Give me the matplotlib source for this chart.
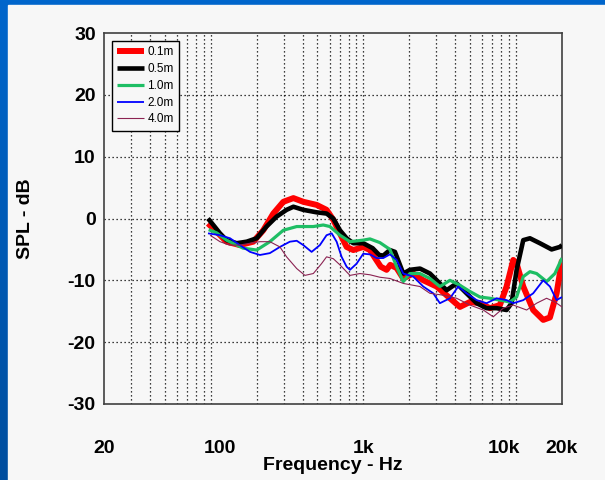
import numpy as np
import matplotlib
matplotlib.use("Agg")
import matplotlib.pyplot as plt
import matplotlib.transforms as mtransforms
from matplotlib.patches import Rectangle

# ---- measured responses (frequency in Hz, level in dB) ----
freq_01 = [96, 109, 127, 155, 190, 221, 257, 299, 348, 404, 494, 574, 635, 702, 777,
           859, 998, 1104, 1200, 1300, 1420, 1500, 1650, 1825, 2120, 2470, 3020, 3690,
           4290, 4990, 5800, 6740, 7840, 8670, 9590, 10090, 11150, 12950, 15070, 16670,
           18440, 20000]
spl_01 = [-0.8, -2.1, -3.75, -4.3, -3.75, -1.9, 0.8, 2.7, 3.3, 2.7, 2.2, 1.4, -0.2, -2.4,
          -4.6, -5.1, -4.6, -5.1, -6.5, -7.8, -8.3, -7.5, -8.0, -9.7, -8.9, -10.0, -11.0,
          -12.9, -14.3, -13.5, -13.7, -14.5, -14.0, -11.0, -6.7, -7.3, -11.0, -14.8, -16.4,
          -16.0, -12.1, -6.7]

freq_05 = [96, 104, 115, 127, 148, 172, 200, 232, 270, 314, 348, 404, 494, 574, 635, 702,
           777, 859, 998, 1150, 1270, 1350, 1490, 1610, 1825, 2020, 2350, 2730, 3170, 3510,
           4080, 4740, 5520, 6410, 7460, 8670, 9350, 10090, 11150, 12330, 14330, 17100,
           19380, 20000]
spl_05 = [0.0, -1.05, -2.4, -3.5, -4.0, -3.75, -3.2, -1.3, 0.3, 1.4, 1.9, 1.4, 1.0, 0.8,
          0.0, -1.9, -3.2, -4.0, -4.0, -4.8, -5.9, -6.0, -5.1, -5.4, -8.9, -8.3, -8.1, -8.9,
          -10.5, -11.6, -10.5, -12.1, -13.7, -14.5, -14.5, -14.8, -13.7, -8.3, -3.5, -3.2,
          -4.0, -5.0, -4.6, -4.3]

freq_10 = [97, 109, 127, 163, 200, 244, 299, 366, 470, 546, 604, 702, 817, 998, 1104,
           1283, 1493, 1652, 1825, 2019, 2346, 2728, 3170, 3690, 4287, 4987, 5800, 6740,
           7840, 9120, 10090, 11150, 12330, 13640, 15850, 17970, 20000]
spl_10 = [-1.8, -2.3, -3.5, -4.8, -5.1, -3.75, -1.9, -1.3, -1.3, -1.05, -1.3, -2.7, -3.75,
          -3.5, -3.3, -3.9, -5.0, -7.8, -10.2, -8.9, -8.9, -9.7, -11.0, -10.0, -10.8,
          -11.8, -12.7, -12.9, -13.2, -13.5, -12.7, -9.4, -8.6, -8.9, -10.2, -8.9, -6.4]

freq_20 = [96, 115, 134, 155, 181, 210, 244, 284, 330, 366, 404, 458, 519, 574, 620, 668,
           720, 777, 817, 903, 998, 1104, 1221, 1350, 1493, 1652, 1825, 2123, 2467, 2870,
           3170, 3690, 4180, 4743, 5520, 6410, 7460, 8670, 9590, 11150, 12950, 15070,
           16670, 18440, 20000]
spl_20 = [-2.4, -2.7, -3.2, -4.3, -5.4, -5.9, -5.6, -4.6, -3.75, -3.6, -4.3, -5.4, -4.3,
          -2.7, -2.4, -3.75, -6.2, -7.8, -8.3, -7.3, -5.7, -5.8, -6.4, -6.4, -5.8, -6.7,
          -8.9, -9.4, -11.0, -12.1, -13.7, -12.9, -11.0, -12.1, -13.2, -13.7, -12.9,
          -13.2, -13.7, -13.2, -12.1, -10.0, -11.0, -13.2, -12.7]

freq_40 = [99, 115, 133, 155, 181, 210, 244, 284, 314, 366, 414, 470, 532, 574, 635, 702,
           817, 950, 1104, 1283, 1493, 1825, 2346, 2728, 3334, 4083, 4987, 6100, 7090,
           8240, 9590, 11730, 13640, 15850, 17970, 20000]
spl_40 = [-2.7, -3.75, -4.3, -4.3, -4.0, -3.75, -3.75, -4.6, -6.2, -8.1, -9.2, -8.9, -7.3,
          -6.2, -6.5, -7.5, -9.2, -8.9, -9.1, -9.5, -9.7, -10.5, -11.0, -12.1, -12.4,
          -12.9, -14.0, -14.8, -15.9, -14.5, -14.0, -14.8, -13.7, -12.9, -13.5, -14.3]

series_labels = ["0.1m", "0.5m", "1.0m", "2.0m", "4.0m"]
x_ticks = [20, 100, 1000, 10000, 20000]
x_tick_labels = ["20", "100", "1k", "10k", "20k"]
y_ticks = [-30, -20, -10, 0, 10, 20, 30]

# ---- styling ----
PANEL = "#F7F7F7"
colors = ["#FF0000", "#000000", "#1EBE64", "#0000FF", "#8B2252"]
widths = [4.3, 3.3, 2.3, 1.3, 0.8]
W, H = 605, 480

plt.rcParams["font.family"] = ["Liberation Sans", "DejaVu Sans"]
plt.rcParams["axes.unicode_minus"] = False
fig = plt.figure(figsize=(W / 100, H / 100), dpi=100)

# blue frame with a soft vertical gradient, light panel on top of it
bg = fig.add_axes([0, 0, 1, 1], zorder=-10)
top_c = np.array([0, 102, 204]) / 255
bot_c = np.array([0, 78, 158]) / 255
t = np.linspace(0, 1, H)[:, None, None]
grad = np.broadcast_to(top_c * (1 - t) + bot_c * t, (H, 2, 3))
bg.imshow(grad, aspect="auto", extent=[0, 1, 0, 1])
bg.add_patch(Rectangle((8 / W, 0), 1, (H - 5) / H, color=PANEL, zorder=5))
bg.set_xlim(0, 1)
bg.set_ylim(0, 1)
bg.axis("off")

ax = fig.add_axes([104 / W, 76 / H, 458 / W, 371 / H])
ax.set_facecolor(PANEL)
ax.set_xscale("log")
ax.set_xlim(20, 20000)
ax.set_ylim(-30, 30)

freqs = [freq_01, freq_05, freq_10, freq_20, freq_40]
spls = [spl_01, spl_05, spl_10, spl_20, spl_40]
for f, s, c, lw, lab in zip(freqs, spls, colors, widths, series_labels):
    ax.plot(f, s, color=c, lw=lw, label=lab, solid_joinstyle="round",
            solid_capstyle="butt", zorder=3)

# dotted grid: every 10 dB, every 1-2-...-9 step of each decade
minor_lines = [m * 10 ** d for d in range(1, 5) for m in range(1, 10)]
minor_lines = [v for v in minor_lines if 20 < v < 20000]
ax.set_xticks(x_ticks)
ax.set_xticklabels(x_tick_labels)
ax.set_xticks(minor_lines, minor=True)
ax.set_yticks(y_ticks)
ax.tick_params(which="both", length=0)
ax.tick_params(axis="y", pad=6, labelsize=14)
ax.tick_params(axis="x", pad=26, labelsize=14)
for lab in ax.get_xticklabels() + ax.get_yticklabels():
    lab.set_fontweight("bold")

for v in minor_lines:
    ax.axvline(v, color="black", lw=0.9, ls=(0, (1, 2.2)), zorder=1)
for v in y_ticks[1:-1]:
    ax.axhline(v, color="black", lw=0.9, ls=(0, (1, 2.2)), zorder=1)

# tick labels nudged sideways as in the instrument printout
shifts = {"100": 9, "10k": -12}
for lab in ax.get_xticklabels():
    dx = shifts.get(lab.get_text(), 0)
    if dx:
        lab.set_transform(lab.get_transform() +
                          mtransforms.ScaledTranslation(dx / 100, 0, fig.dpi_scale_trans))

for sp in ax.spines.values():
    sp.set_color("#404040")
    sp.set_linewidth(1.2)

ax.set_ylabel("SPL - dB", fontsize=14, fontweight="bold", labelpad=24)
ax.set_xlabel("Frequency - Hz", fontsize=14, fontweight="bold", labelpad=0)

leg = ax.legend(loc="upper left", bbox_to_anchor=(0.0175, 0.978), borderaxespad=0,
                fontsize=8.5, handlelength=2.3, handletextpad=0.25, borderpad=0.45,
                labelspacing=0.4, fancybox=False, framealpha=1, facecolor=PANEL,
                edgecolor="black")
leg.get_frame().set_linewidth(1.0)

fig.savefig("out.png", dpi=100, facecolor=PANEL)
